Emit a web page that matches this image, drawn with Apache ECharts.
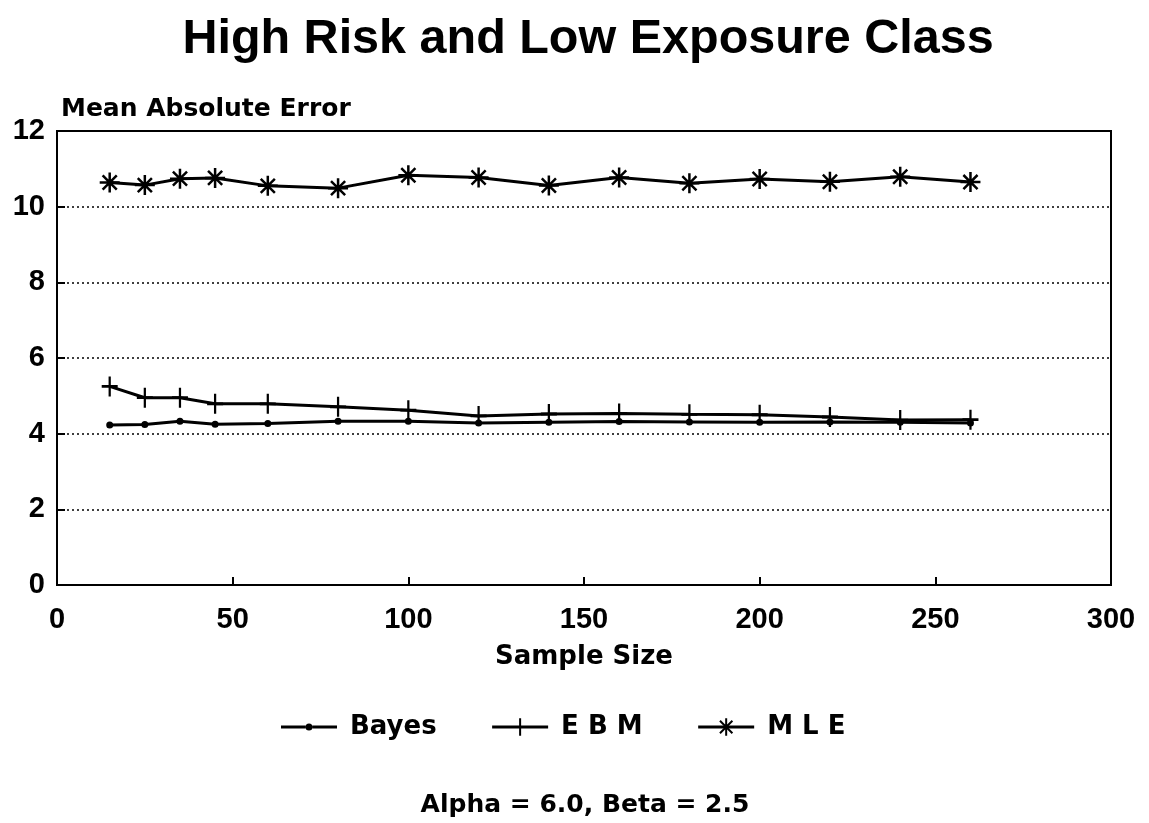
<!DOCTYPE html>
<html>
<head>
<meta charset="utf-8">
<script src="https://cdn.jsdelivr.net/npm/echarts/dist/echarts.min.js"></script>
<style>
html,body{margin:0;padding:0;background:#fff;}
#chart{width:1149px;height:823px;}
</style>
</head>
<body>
<div id="chart"></div>
<script>
const sampleSizes = [15, 25, 35, 45, 60, 80, 100, 120, 140, 160, 180, 200, 220, 240, 260];
const bayes = [4.23, 4.24, 4.33, 4.25, 4.27, 4.33, 4.33, 4.28, 4.30, 4.32, 4.31, 4.30, 4.31, 4.30, 4.28];
const ebm = [5.25, 4.95, 4.95, 4.79, 4.79, 4.71, 4.62, 4.47, 4.52, 4.53, 4.51, 4.50, 4.44, 4.36, 4.37];
const mle = [10.64, 10.57, 10.74, 10.76, 10.55, 10.49, 10.83, 10.77, 10.56, 10.77, 10.62, 10.73, 10.66, 10.79, 10.65];
const seriesNames = ['Bayes', 'E B M', 'M L E'];
const titleText = 'High Risk and Low Exposure Class';
const xName = 'Sample Size';
const yName = 'Mean Absolute Error';
const footText = 'Alpha = 6.0, Beta = 2.5';

const pair = (ys) => sampleSizes.map((x, i) => [x, ys[i]]);

const starPath = 'path://M0,-10L0,10M-10,0L10,0M-7.07,-7.07L7.07,7.07M-7.07,7.07L7.07,-7.07';
const plusPath = 'path://M0,-10L0,10M-8,0L8,0';
// legend icon for Bayes: thick line with a small dot (box 56 x 22)
const bayesIcon = 'path://M0,0L56,0M0,22L56,22' +
  'M0,9.5L24.5,9.5L24.5,12.5L0,12.5Z' +
  'M31.5,9.5L56,9.5L56,12.5L31.5,12.5Z' +
  'M24.5,11A3.5,3.5,0,1,1,31.5,11A3.5,3.5,0,1,1,24.5,11Z';

const chart = echarts.init(document.getElementById('chart'));
const txt = {fontFamily: 'DejaVu Sans', fontWeight: 'bold', color: '#000'};

chart.setOption({
  animation: false,
  backgroundColor: '#fff',
  title: [
    {text: titleText, left: 583, top: 10, textAlign: 'center',
     textStyle: {fontFamily: 'Liberation Sans', fontWeight: 'bold', fontSize: 48.5, color: '#000'}},
    {text: footText, left: 580, top: 788, textAlign: 'center',
     textStyle: Object.assign({fontSize: 25}, txt)}
  ],
  legend: {
    left: 281, top: 714, padding: 0,
    itemWidth: 56, itemHeight: 22, itemGap: 54,
    lineStyle: {width: 3, color: '#000'},
    textStyle: Object.assign({fontSize: 26, padding: [0, 0, 0, 8]}, txt),
    data: [
      {name: seriesNames[0], icon: bayesIcon, itemStyle: {color: '#000', borderWidth: 0}},
      seriesNames[1],
      seriesNames[2]
    ]
  },
  grid: {left: 57, right: 38, top: 131, bottom: 238, show: true, borderColor: '#000', borderWidth: 2},
  xAxis: {
    type: 'value', min: 0, max: 300, interval: 50,
    name: xName, nameLocation: 'middle', nameGap: 59,
    nameTextStyle: Object.assign({fontSize: 26}, txt),
    axisLine: {lineStyle: {color: '#000', width: 2}},
    axisTick: {inside: true, length: 8, lineStyle: {color: '#000', width: 2}},
    axisLabel: {fontFamily: 'Liberation Sans', fontWeight: 'bold', fontSize: 29, color: '#000', margin: 20},
    splitLine: {show: false}
  },
  yAxis: {
    type: 'value', min: 0, max: 12, interval: 2,
    name: yName, nameLocation: 'end', nameGap: 9,
    nameTextStyle: Object.assign({fontSize: 25, align: 'left', padding: [0, 0, 0, 4]}, txt),
    axisLine: {lineStyle: {color: '#000', width: 2}},
    axisTick: {inside: true, length: 8, lineStyle: {color: '#000', width: 2}},
    axisLabel: {fontFamily: 'Liberation Sans', fontWeight: 'bold', fontSize: 29, color: '#000', margin: 12},
    splitLine: {show: true, lineStyle: {color: '#000', width: 1.5, type: [2, 3]}}
  },
  series: [
    {name: seriesNames[0], type: 'line', data: pair(bayes), color: '#000',
     symbol: 'circle', symbolSize: 7, showAllSymbol: true,
     lineStyle: {color: '#000', width: 3}, itemStyle: {color: '#000', borderWidth: 0}},
    {name: seriesNames[1], type: 'line', data: pair(ebm), color: '#000',
     symbol: plusPath, symbolSize: [16, 20], showAllSymbol: true,
     lineStyle: {color: '#000', width: 3}, itemStyle: {color: '#000', borderColor: '#000', borderWidth: 2.5}},
    {name: seriesNames[2], type: 'line', data: pair(mle), color: '#000',
     symbol: starPath, symbolSize: 20, showAllSymbol: true,
     lineStyle: {color: '#000', width: 3}, itemStyle: {color: '#000', borderColor: '#000', borderWidth: 2.5}}
  ]
});
</script>
</body>
</html>
